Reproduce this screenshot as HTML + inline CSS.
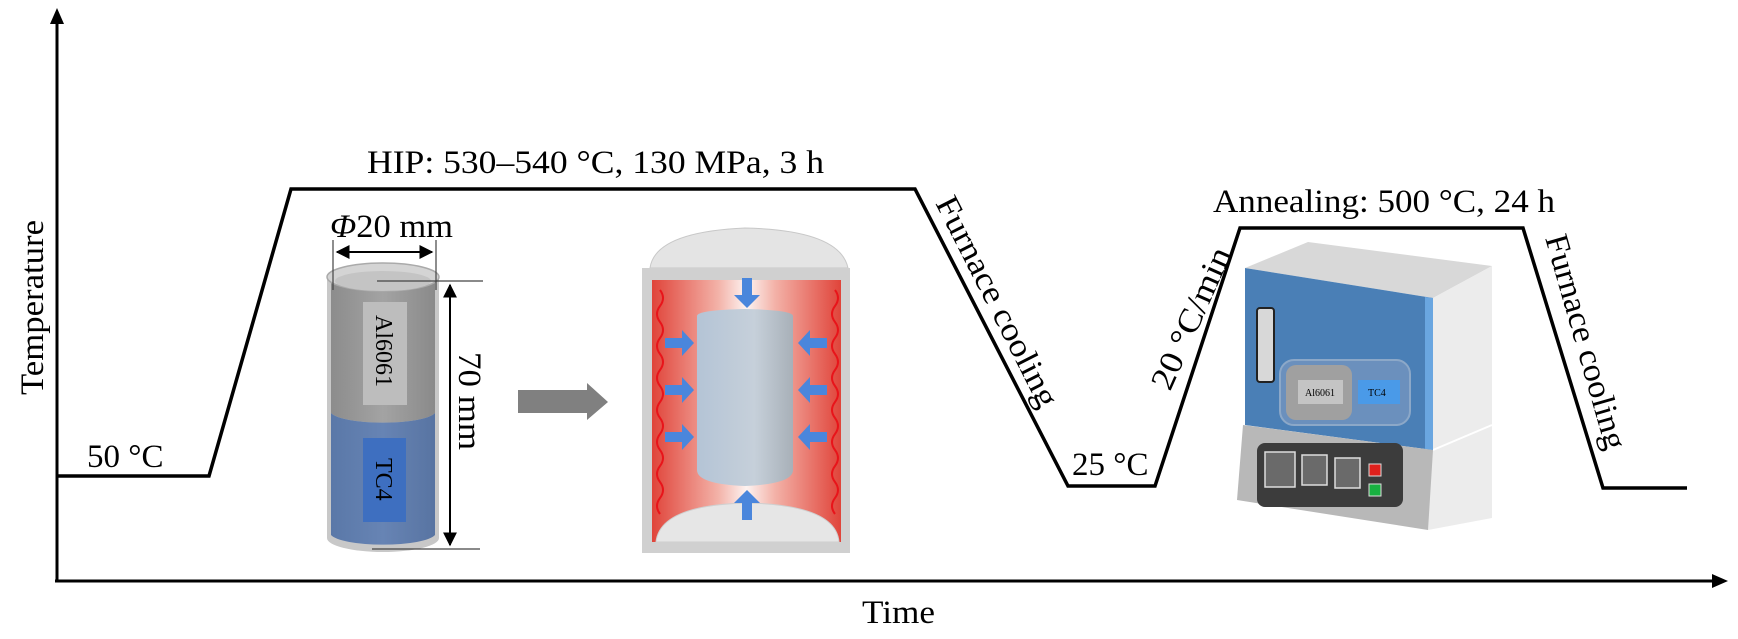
<!DOCTYPE html>
<html><head><meta charset="utf-8"><style>
html,body{margin:0;padding:0;background:#fff;}
svg{display:block;}
text{font-family:"Liberation Serif",serif;fill:#000;}
</style></head><body>
<svg width="1738" height="639" viewBox="0 0 1738 639" xmlns="http://www.w3.org/2000/svg">
<defs>
<linearGradient id="red" x1="0" x2="1" y1="0" y2="0">
<stop offset="0" stop-color="#e0443a"/><stop offset="0.35" stop-color="#f3b2a8"/><stop offset="0.5" stop-color="#fdf3f1"/><stop offset="0.65" stop-color="#f3b2a8"/><stop offset="1" stop-color="#e0443a"/>
</linearGradient>
<linearGradient id="inner" x1="0" x2="1"><stop offset="0" stop-color="#b4c4d6"/><stop offset="0.6" stop-color="#c6d0da"/><stop offset="1" stop-color="#a8b0b8"/></linearGradient>
<linearGradient id="cylAl" x1="0" x2="1"><stop offset="0" stop-color="#8c8c8c"/><stop offset="0.5" stop-color="#a3a3a3"/><stop offset="1" stop-color="#8a8a8a"/></linearGradient>
<linearGradient id="cylTi" x1="0" x2="1"><stop offset="0" stop-color="#5a78a8"/><stop offset="0.5" stop-color="#6784b4"/><stop offset="1" stop-color="#5874a2"/></linearGradient>
<marker id="ah" viewBox="0 0 10 10" refX="9" refY="5" markerWidth="7" markerHeight="7" orient="auto-start-reverse"><path d="M0,0 L10,5 L0,10 z" fill="#000"/></marker>
</defs>

<!-- axes -->
<line x1="57" y1="581" x2="57" y2="22" stroke="#000" stroke-width="3"/>
<path d="M50,24 L57,8 L64,24 z" fill="#000"/>
<line x1="55" y1="581" x2="1714" y2="581" stroke="#000" stroke-width="3"/>
<path d="M1712,574 L1728,581 L1712,588 z" fill="#000"/>

<!-- temperature profile -->
<polyline points="57,476 209,476 291,189 915,189 1068,486 1155,486 1240,228 1523,228 1603,488 1687,488" fill="none" stroke="#000" stroke-width="3.5" stroke-linejoin="miter"/>

<!-- labels -->
<text x="87" y="467" font-size="33">50 °C</text>
<text x="367" y="173" font-size="33" textLength="457" lengthAdjust="spacingAndGlyphs">HIP: 530–540 °C, 130 MPa, 3 h</text>
<text x="1213" y="212" font-size="33" textLength="342" lengthAdjust="spacingAndGlyphs">Annealing: 500 °C, 24 h</text>
<text x="1072" y="475" font-size="33">25 °C</text>
<text x="0" y="0" font-size="33" transform="translate(43,395) rotate(-90)" textLength="175" lengthAdjust="spacingAndGlyphs">Temperature</text>
<text x="862" y="623" font-size="33" textLength="73" lengthAdjust="spacingAndGlyphs">Time</text>
<text x="0" y="0" font-size="33" transform="translate(935,203) rotate(63)" textLength="232" lengthAdjust="spacingAndGlyphs">Furnace cooling</text>
<text x="0" y="0" font-size="33" transform="translate(1545,238) rotate(74)" textLength="222" lengthAdjust="spacingAndGlyphs">Furnace cooling</text>
<text x="0" y="0" font-size="33" transform="translate(1170,392) rotate(-66)" textLength="152" lengthAdjust="spacingAndGlyphs">20 °C/min</text>

<!-- sample cylinder -->
<path d="M327,277 L327,538 A56,14 0 0 0 439,538 L439,277 z" fill="#c8c8c8"/>
<path d="M331,281 L331,413 A53,12 0 0 0 435,413 L435,281 z" fill="url(#cylAl)"/>
<path d="M331,413 A53,12 0 0 0 435,413 L435,535 A53,12 0 0 1 331,535 z" fill="url(#cylTi)"/>
<ellipse cx="383" cy="277" rx="56" ry="14" fill="#d4d4d4" stroke="#aaa" stroke-width="1.5"/>
<ellipse cx="383" cy="281" rx="48" ry="10" fill="#c4c4c4"/>
<rect x="363" y="302" width="44" height="103" fill="#bdbdbd"/>
<rect x="363" y="438" width="43" height="84" fill="#3e6fc0"/>
<text x="0" y="0" font-size="24" transform="translate(376,315) rotate(90)">Al6061</text>
<text x="0" y="0" font-size="24" transform="translate(376,458) rotate(90)">TC4</text>
<!-- dimensions -->
<line x1="333" y1="240" x2="333" y2="290" stroke="#444" stroke-width="1.2"/>
<line x1="436" y1="240" x2="436" y2="290" stroke="#444" stroke-width="1.2"/>
<line x1="337" y1="252" x2="432" y2="252" stroke="#000" stroke-width="2" marker-start="url(#ah)" marker-end="url(#ah)"/>
<text x="330" y="237" font-size="33" textLength="123" lengthAdjust="spacingAndGlyphs"><tspan font-style="italic">Φ</tspan>20 mm</text>
<line x1="377" y1="281" x2="483" y2="281" stroke="#444" stroke-width="1.2"/>
<line x1="372" y1="549" x2="480" y2="549" stroke="#444" stroke-width="1.2"/>
<line x1="450" y1="285" x2="450" y2="545" stroke="#000" stroke-width="2" marker-start="url(#ah)" marker-end="url(#ah)"/>
<text x="0" y="0" font-size="33" transform="translate(459,352) rotate(90)" textLength="98" lengthAdjust="spacingAndGlyphs">70 mm</text>

<!-- gray arrow -->
<path d="M518,390 L587,390 L587,383 L608,402 L587,420 L587,413 L518,413 z" fill="#808080"/>

<!-- HIP vessel -->
<path d="M650,268 Q655,232 745,228 Q840,230 848,268 z" fill="#e4e4e4" stroke="#c8c8c8" stroke-width="1"/>
<rect x="642" y="268" width="208" height="285" fill="#d0d0d0"/>
<rect x="652" y="280" width="189" height="262" fill="url(#red)"/>
<path d="M656,542 Q660,505 747,503 Q836,505 839,542 z" fill="#e6e6e6" stroke="#cfcfcf"/>
<path d="M697,316 Q697,310 745,309 Q793,310 793,316 L793,470 Q793,484 745,486 Q697,484 697,470 z" fill="url(#inner)"/>
<path d="M660,290 q6,8 0,16 q-6,8 0,16 q6,8 0,16 q-6,8 0,16 q6,8 0,16 q-6,8 0,16 q6,8 0,16 q-6,8 0,16 q6,8 0,16 q-6,8 0,16 q6,8 0,16 q-6,8 0,16 q6,8 0,16 q-6,8 0,16" fill="none" stroke="#e8141a" stroke-width="2"/>
<path d="M835,290 q6,8 0,16 q-6,8 0,16 q6,8 0,16 q-6,8 0,16 q6,8 0,16 q-6,8 0,16 q6,8 0,16 q-6,8 0,16 q6,8 0,16 q-6,8 0,16 q6,8 0,16 q-6,8 0,16 q6,8 0,16 q-6,8 0,16" fill="none" stroke="#e8141a" stroke-width="2"/>
<g fill="#4a86dc">
<path d="M742,278 L752,278 L752,295 L760,295 L747,308 L734,295 L742,295 z"/>
<path d="M742,520 L752,520 L752,503 L760,503 L747,490 L734,503 L742,503 z"/>
<path d="M665,338 L682,338 L682,330 L694,343 L682,356 L682,348 L665,348 z"/>
<path d="M665,385 L682,385 L682,377 L694,390 L682,403 L682,395 L665,395 z"/>
<path d="M665,432 L682,432 L682,424 L694,437 L682,450 L682,442 L665,442 z"/>
<path d="M827,338 L810,338 L810,330 L798,343 L810,356 L810,348 L827,348 z"/>
<path d="M827,385 L810,385 L810,377 L798,390 L810,403 L810,395 L827,395 z"/>
<path d="M827,432 L810,432 L810,424 L798,437 L810,450 L810,442 L827,442 z"/>
</g>

<!-- annealing furnace -->
<polygon points="1245,268 1308,242 1492,266 1433,298" fill="#d8d8d8"/>
<polygon points="1433,298 1492,266 1492,518 1428,530" fill="#ececec"/>
<line x1="1433" y1="450" x2="1492" y2="425" stroke="#fff" stroke-width="2"/>
<polygon points="1245,268 1433,298 1433,450 1245,425" fill="#4a7fb6"/>
<polygon points="1425,297 1433,298 1433,450 1425,449" fill="#6aa6e0"/>
<polygon points="1243,425 1433,450 1428,530 1237,500" fill="#b8b8b8"/>
<rect x="1257" y="308" width="17" height="74" rx="3" fill="#d8d8d8" stroke="#222" stroke-width="2"/>
<rect x="1280" y="360" width="130" height="65" rx="14" fill="#6b90bd" stroke="#8ca8c8" stroke-width="2"/>
<rect x="1286" y="365" width="66" height="55" rx="10" fill="#a0a0a0"/>
<rect x="1298" y="380" width="45" height="24" fill="#c4c4c4"/>
<rect x="1358" y="380" width="42" height="24" fill="#4a9ae8"/>
<text x="1305" y="396" font-size="10" font-family="Liberation Sans">Al6061</text>
<text x="1368" y="396" font-size="10" font-family="Liberation Sans">TC4</text>
<rect x="1257" y="443" width="146" height="64" rx="8" fill="#3c3c3c"/>
<rect x="1265" y="452" width="30" height="35" fill="#6a6a6a" stroke="#ddd" stroke-width="1.5"/>
<rect x="1302" y="455" width="25" height="30" fill="#6a6a6a" stroke="#ddd" stroke-width="1.5"/>
<rect x="1335" y="458" width="25" height="30" fill="#6a6a6a" stroke="#ddd" stroke-width="1.5"/>
<rect x="1369" y="464" width="12" height="12" fill="#e0201c" stroke="#ddd"/>
<rect x="1369" y="484" width="12" height="12" fill="#18b040" stroke="#ddd"/>
</svg>
</body></html>
